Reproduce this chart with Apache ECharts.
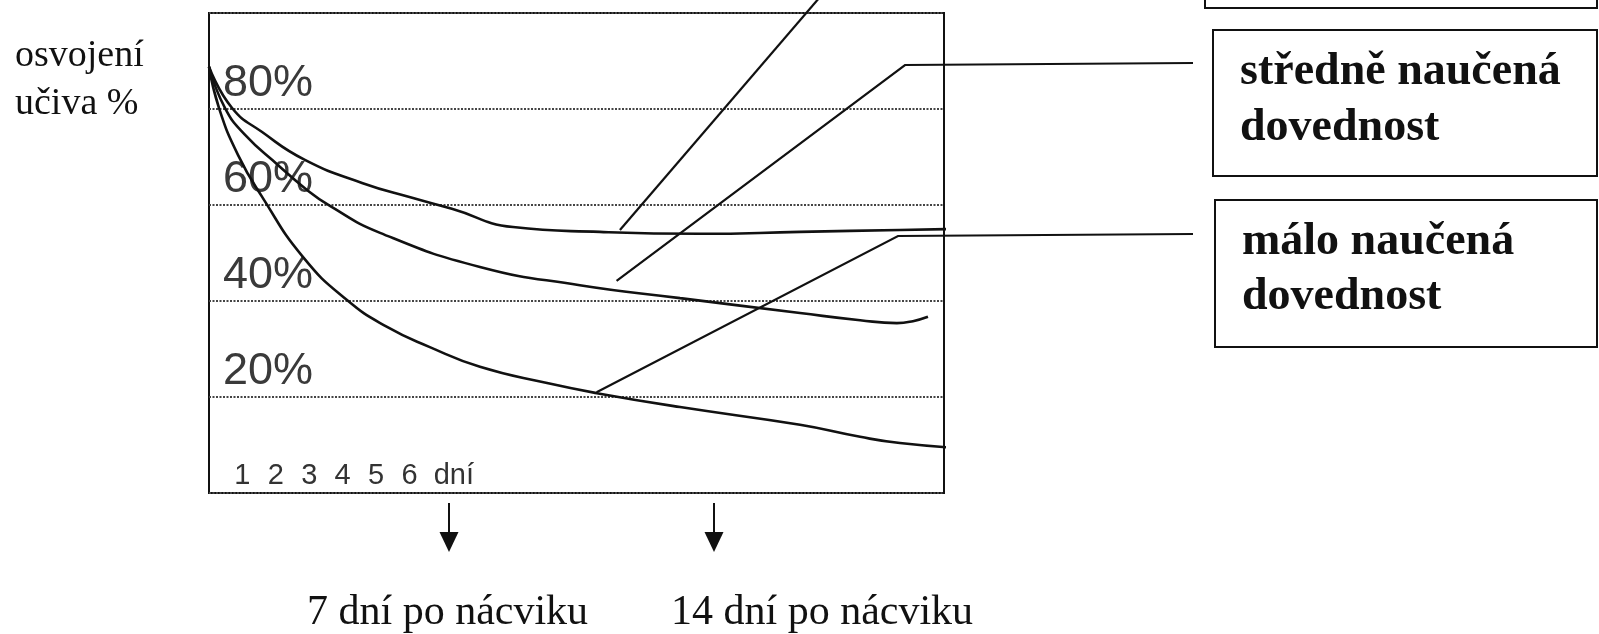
<!DOCTYPE html>
<html><head><meta charset="utf-8">
<script src="https://cdn.jsdelivr.net/npm/echarts@6/dist/echarts.min.js"></script>
<style>html,body{margin:0;padding:0;background:#fff}#c{width:1599px;height:634px}</style>
</head><body><div id="c"></div>
<script>
// x = days after practice, y = % of material retained (osvojení učiva %)
const dobreNaucena = [[0,88.8],[0.69,80.2],[1.59,75.2],[2.87,69.4],[4.58,64.6],[6.08,61.5],[7.27,59.2],[9.10,55.4],[11.70,54.4],[14.70,54.0],[17.69,54.4],[20.68,54.8],[22.21,55.0]];
const stredneNaucena = [[0,88.8],[0.48,80.2],[1.08,74.6],[2.07,68.3],[2.87,63.5],[3.62,59.8],[5.12,54.2],[8.11,47.1],[11.10,43.3],[14.10,40.6],[17.69,37.5],[19.49,36.0],[20.59,35.4],[21.07,35.8],[21.52,36.7]];
const maloNaucena = [[0,88.8],[0.30,80.2],[0.87,70.4],[1.59,61.7],[2.81,49.2],[4.13,40.2],[5.33,34.6],[6.61,30.4],[8.11,26.3],[10.12,22.9],[11.61,20.8],[14.10,17.9],[17.69,14.2],[19.49,11.7],[20.68,10.4],[22.39,9.4]];
const xTickLabels = ['', '1', '2', '3', '4', '5', '6', 'dní'];
const yTickLabels = {20: '20%', 40: '40%', 60: '60%', 80: '80%'};
const seriesNames = ['dobře naučená dovednost', 'středně naučená dovednost', 'málo naučená dovednost'];
const boxLabels = [['středně naučená', 'dovednost'], ['málo naučená', 'dovednost']];
const arrowLabels = ['7 dní po nácviku', '14 dní po nácviku'];
const axisTitle = ['osvojení', 'učiva %'];
// leader anchors in data coordinates [day, %]
const leaderAnchors = [[12.3, 54.8], [12.2, 44.2], [11.6, 21.0]];

const chart = echarts.init(document.getElementById('c'), null, {renderer: 'canvas'});
const lineStyle = {color: '#111', width: 2.6};
function mk(name, data) {
  return {name, type: 'line', data, smooth: 0.5, symbol: 'none', clip: false, lineStyle, z: 5};
}
chart.setOption({
  backgroundColor: '#fff',
  animation: false,
  grid: {left: 209, right: 655, top: 13, bottom: 141, show: true, borderColor: '#111', borderWidth: 2, backgroundColor: 'transparent'},
  xAxis: {
    type: 'value', min: 0, max: 22, interval: 1,
    axisLine: {show: false}, axisTick: {show: false}, splitLine: {show: false},
    axisLabel: {
      inside: true, margin: 3, fontFamily: 'Liberation Sans', fontSize: 29, color: '#333',
      showMinLabel: true, showMaxLabel: true,
      formatter: v => { const s = xTickLabels[v] || ''; return s === 'dní' ? '{d|' + s + '}' : s; },
      rich: {d: {fontFamily: 'Liberation Sans', fontSize: 29, color: '#333', padding: [0, 0, 0, 22]}}
    }
  },
  yAxis: {
    type: 'value', min: 0, max: 100, interval: 20,
    axisLine: {show: false}, axisTick: {show: false},
    splitLine: {show: true, lineStyle: {color: '#444', width: 2, type: [2, 1.5]}},
    axisLabel: {
      inside: true, margin: 14, fontFamily: 'Liberation Sans', fontSize: 45, color: '#3a3a3a',
      verticalAlign: 'bottom', padding: [0, 0, 3, 0],
      formatter: v => yTickLabels[v] || ''
    }
  },
  series: [mk(seriesNames[0], dobreNaucena), mk(seriesNames[1], stredneNaucena), mk(seriesNames[2], maloNaucena)]
});

const p = leaderAnchors.map(a => chart.convertToPixel({gridIndex: 0}, a));
const ls = {stroke: '#111', lineWidth: 2.2, fill: null};
const serifBold = {fontFamily: 'Liberation Serif', fontWeight: 'bold', fontSize: 46, fill: '#111', verticalAlign: 'middle', align: 'left'};
const serif = (size) => ({fontFamily: 'Liberation Serif', fontSize: size, fill: '#111', verticalAlign: 'middle', align: 'left'});
const g = [];
// leader lines
g.push({type: 'polyline', shape: {points: [p[0], [826, -10]]}, style: ls, z: 10});
g.push({type: 'polyline', shape: {points: [p[1], [905, 65], [1193, 63]]}, style: ls, z: 10});
g.push({type: 'polyline', shape: {points: [p[2], [898, 236], [1193, 234]]}, style: ls, z: 10});
// boxes
g.push({type: 'rect', shape: {x: 1205, y: -60, width: 392, height: 68}, style: {stroke: '#111', lineWidth: 2, fill: '#fff'}, z: 10});
g.push({type: 'rect', shape: {x: 1213, y: 30, width: 384, height: 146}, style: {stroke: '#111', lineWidth: 2, fill: '#fff'}, z: 10});
g.push({type: 'rect', shape: {x: 1215, y: 200, width: 382, height: 147}, style: {stroke: '#111', lineWidth: 2, fill: '#fff'}, z: 10});
g.push({type: 'text', x: 1240, y: 72, style: Object.assign({text: boxLabels[0][0]}, serifBold), z: 11});
g.push({type: 'text', x: 1240, y: 128, style: Object.assign({text: boxLabels[0][1]}, serifBold), z: 11});
g.push({type: 'text', x: 1242, y: 242, style: Object.assign({text: boxLabels[1][0]}, serifBold), z: 11});
g.push({type: 'text', x: 1242, y: 297, style: Object.assign({text: boxLabels[1][1]}, serifBold), z: 11});
// y title
g.push({type: 'text', x: 15, y: 56, style: Object.assign({text: axisTitle[0]}, serif(38)), z: 11});
g.push({type: 'text', x: 15, y: 104, style: Object.assign({text: axisTitle[1]}, serif(38)), z: 11});
// arrows
[449, 714].forEach(x => {
  g.push({type: 'line', shape: {x1: x, y1: 503, x2: x, y2: 536}, style: {stroke: '#111', lineWidth: 2}, z: 10});
  g.push({type: 'polygon', shape: {points: [[x - 9.5, 532], [x + 9.5, 532], [x, 552]]}, style: {fill: '#111'}, z: 10});
});
g.push({type: 'text', x: 307, y: 613, style: Object.assign({text: arrowLabels[0]}, serif(42)), z: 11});
g.push({type: 'text', x: 671, y: 613, style: Object.assign({text: arrowLabels[1]}, serif(42)), z: 11});
chart.setOption({graphic: g});
</script></body></html>
